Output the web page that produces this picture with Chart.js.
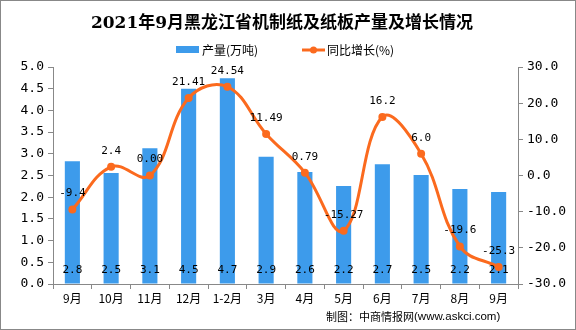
<!DOCTYPE html>
<html><head><meta charset="utf-8">
<script src="https://cdn.jsdelivr.net/npm/chart.js@4/dist/chart.umd.min.js"></script>
<style>html,body{margin:0;padding:0;background:#fff}#wrap{width:576px;height:330px;position:relative}</style>
</head><body><div id="wrap"><canvas id="c" width="576" height="330"></canvas></div>
<script>
const categories = ["9月","10月","11月","12月","1-2月","3月","4月","5月","6月","7月","8月","9月"];
const output = [2.83,2.56,3.13,4.50,4.74,2.93,2.58,2.26,2.76,2.51,2.19,2.12];
const outputLabels = ["2.8","2.5","3.1","4.5","4.7","2.9","2.6","2.2","2.7","2.5","2.2","2.1"];
const growth = [-9.4,2.4,0.00,21.41,24.54,11.49,0.79,-15.27,16.2,6.0,-19.6,-25.3];
const growthLabels = ["-9.4","2.4","0.00","21.41","24.54","11.49","0.79","-15.27","16.2","6.0","-19.6","-25.3"];
const leftTicks = ["0.0","0.5","1.0","1.5","2.0","2.5","3.0","3.5","4.0","4.5","5.0"];
const rightTicks = ["-30.0","-20.0","-10.0","0.0","10.0","20.0","30.0"];

const BAR = "#3D9BEB", LINE = "#FB6A1E";
const monoFont = "'DejaVu Sans Mono', monospace";
const cjk = "'Noto Sans CJK SC', sans-serif";

const deco = {
  id: 'deco',
  afterDatasetsDraw(chart) {
    const ctx = chart.ctx;
    ctx.save();
    ctx.fillStyle = '#000';
    ctx.font = "11px " + monoFont;
    ctx.textAlign = 'center'; ctx.textBaseline = 'middle';
    chart.getDatasetMeta(0).data.forEach((el, i) => {
      ctx.fillText(outputLabels[i], el.x, 270);
    });
    chart.getDatasetMeta(1).data.forEach((el, i) => {
      ctx.fillText(growthLabels[i], el.x, el.y - 16);
    });
    ctx.restore();
  },
  afterDraw(chart) {
    const ctx = chart.ctx;
    ctx.save();
    ctx.fillStyle = '#000';
    ctx.textAlign = 'center'; ctx.textBaseline = 'middle';
    ctx.font = "bold 17px 'DejaVu Serif', 'Noto Sans CJK SC', serif";
    ctx.fillText("2021年9月黑龙江省机制纸及纸板产量及增长情况", 282, 24);
    ctx.fillStyle = BAR;
    ctx.fillRect(176, 46, 23, 7);
    ctx.fillStyle = '#000';
    ctx.textAlign = 'left';
    ctx.font = "12px " + cjk;
    ctx.fillText("产量(万吨)", 202, 50);
    ctx.strokeStyle = LINE; ctx.lineWidth = 3;
    ctx.beginPath(); ctx.moveTo(302, 50); ctx.lineTo(325, 50); ctx.stroke();
    ctx.fillStyle = LINE;
    ctx.beginPath(); ctx.arc(313.5, 50, 3.5, 0, Math.PI * 2); ctx.fill();
    ctx.fillStyle = '#000';
    ctx.fillText("同比增长(%)", 327, 50);
    ctx.font = "11px " + cjk;
    ctx.fillText("制图：中商情报网", 326, 317);
    const w = ctx.measureText("制图：中商情报网").width;
    ctx.font = "11.5px 'Liberation Sans', sans-serif";
    ctx.fillText("(www.askci.com)", 326 + w, 317);
    ctx.strokeStyle = '#888'; ctx.lineWidth = 1;
    ctx.strokeRect(0.5, 0.5, 575, 329);
    ctx.restore();
  }
};

new Chart(document.getElementById('c'), {
  data: {
    labels: categories,
    datasets: [
      { type: 'bar', data: output, backgroundColor: BAR, yAxisID: 'y',
        barPercentage: 0.39, categoryPercentage: 1.0, order: 2 },
      { type: 'line', data: growth, borderColor: LINE, backgroundColor: LINE, yAxisID: 'y1',
        borderWidth: 3, tension: 0.4, pointRadius: 4, pointBackgroundColor: LINE,
        pointBorderWidth: 0, order: 1 }
    ]
  },
  options: {
    responsive: false, animation: false,
    layout: { padding: { top: 67, bottom: 20, left: 0, right: 0 } },
    plugins: { legend: { display: false }, title: { display: false }, tooltip: { enabled: false } },
    scales: {
      x: {
        offset: true,
        grid: { display: true, drawOnChartArea: false, drawTicks: true, tickLength: 5, color: '#888', offset: true },
        border: { display: true, color: '#888' },
        ticks: { color: '#000', font: { size: 12, family: cjk }, padding: 2, maxRotation: 0, autoSkip: false },
        afterFit(s) { s.height = 26; }
      },
      y: {
        position: 'left', min: 0, max: 5,
        grid: { display: true, drawOnChartArea: false, tickLength: 5, color: '#888' },
        border: { display: true, color: '#888' },
        ticks: { stepSize: 0.5, color: '#000', font: { size: 13, family: monoFont }, padding: 4,
          callback: (v, i) => leftTicks[i] },
        afterFit(s) { s.width = 53; }
      },
      y1: {
        position: 'right', min: -30, max: 30,
        grid: { display: true, drawOnChartArea: false, tickLength: 5, color: '#888' },
        border: { display: true, color: '#888' },
        ticks: { stepSize: 10, color: '#000', font: { size: 13, family: monoFont }, padding: 4,
          callback: (v, i) => rightTicks[i] },
        afterFit(s) { s.width = 58; }
      }
    }
  },
  plugins: [deco]
});
</script>
</body></html>
